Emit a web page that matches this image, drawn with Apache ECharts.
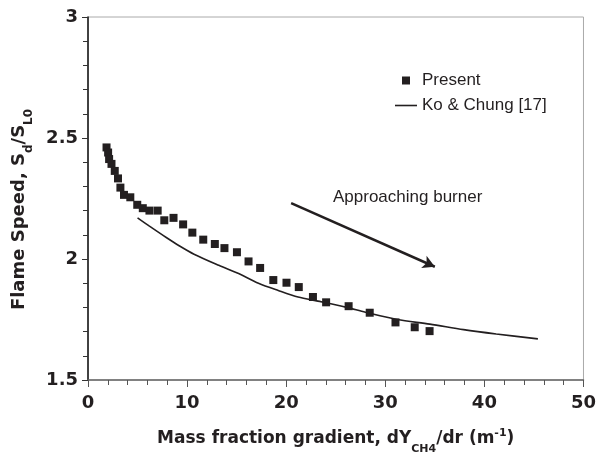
<!DOCTYPE html>
<html>
<head>
<meta charset="utf-8">
<script src="https://cdn.jsdelivr.net/npm/echarts@6/dist/echarts.min.js"></script>
<style>
html,body{margin:0;padding:0;background:#fff;}
#chart{width:599px;height:460px;}
</style>
</head>
<body>
<div id="chart"></div>
<script>
var presentX = [1.87,2.03,2.13,2.37,2.7,3.03,3.27,3.63,4.27,4.97,5.53,6.2,7.03,7.7,8.63,9.6,10.53,11.63,12.8,13.77,15.03,16.2,17.37,18.7,20.03,21.27,22.7,24.03,26.3,28.43,31.03,32.97,34.47];
var presentY = [2.461,2.44,2.413,2.393,2.364,2.333,2.295,2.265,2.255,2.224,2.21,2.2,2.2,2.16,2.17,2.143,2.109,2.08,2.062,2.045,2.028,1.99,1.963,1.913,1.902,1.884,1.843,1.821,1.805,1.778,1.738,1.718,1.702];
var koX = [5.0,6.2,7.9,9.2,10.7,13.2,15.2,17.2,19.2,21.2,23.2,24.5,26.2,28.0,31.2,34.5,37.9,41.2,45.4];
var koY = [2.17,2.136,2.089,2.055,2.02,1.974,1.94,1.9,1.87,1.843,1.826,1.815,1.799,1.78,1.75,1.731,1.708,1.69,1.67];
var arrowStart = [20.5, 2.231];
var arrowEnd = [35.0, 1.968];
var seriesNames = ['Present', 'Ko & Chung [17]'];
var annotation = 'Approaching burner';

function zip(a, b) { return a.map(function (v, i) { return [v, b[i]]; }); }

var ink = '#231f20';
var font = 'Liberation Sans, Arial, sans-serif';
var bold = 'DejaVu Sans, Liberation Sans, sans-serif';
var chart = echarts.init(document.getElementById('chart'), null, {renderer: 'canvas'});
chart.setOption({
  animation: false,
  backgroundColor: '#ffffff',
  grid: {left: 88, right: 11, top: 17, bottom: 73, show: true, borderColor: '#aaaaaa', borderWidth: 1},
  legend: {
    orient: 'vertical', left: 390, top: 67, itemWidth: 22, itemHeight: 8, itemGap: 8,
    textStyle: {fontFamily: font, fontSize: 17, color: ink, lineHeight: 17},
    data: [
      {name: seriesNames[0], icon: 'path://M0,0L10,0L10,10L0,10Z'},
      {name: seriesNames[1], icon: 'path://M0,0L22,0L22,1.6L0,1.6Z'}
    ]
  },
  xAxis: {
    type: 'value', min: 0, max: 50, interval: 10,
    axisLine: {lineStyle: {color: '#666', width: 1.5}},
    axisTick: {length: 7, lineStyle: {color: '#555'}},
    minorTick: {show: true, splitNumber: 5, length: 5, lineStyle: {color: '#555'}},
    splitLine: {show: false},
    axisLabel: {fontFamily: bold, fontWeight: 'bold', fontSize: 18, color: ink, margin: 14},
    name: '{a|Mass fraction gradient, dY}{sub|CH4}{a|/dr (m}{sup|-1}{a|)}',
    nameLocation: 'middle', nameGap: 48,
    nameTextStyle: {
      rich: {
        a: {fontFamily: bold, fontWeight: 'bold', fontSize: 17, color: ink, lineHeight: 22, verticalAlign: 'middle'},
        sub: {fontFamily: bold, fontWeight: 'bold', fontSize: 11, color: ink, lineHeight: 12, verticalAlign: 'bottom', padding: [0,0,-5,0]},
        sup: {fontFamily: bold, fontWeight: 'bold', fontSize: 11, color: ink, lineHeight: 12, verticalAlign: 'top'}
      }
    }
  },
  yAxis: {
    type: 'value', min: 1.5, max: 3, interval: 0.5,
    axisLine: {lineStyle: {color: '#111', width: 1.5}},
    axisTick: {length: 6, lineStyle: {color: '#333'}},
    minorTick: {show: true, splitNumber: 5, length: 5, lineStyle: {color: '#333'}},
    splitLine: {show: false},
    axisLabel: {fontFamily: bold, fontWeight: 'bold', fontSize: 18, color: ink, margin: 10},
    name: '{a|Flame Speed, S}{sub|d}{a|/S}{sub|L0}',
    nameLocation: 'middle', nameGap: 57,
    nameTextStyle: {
      padding: [0, 22, 0, 0],
      rich: {
        a: {fontFamily: bold, fontWeight: 'bold', fontSize: 18, color: ink, lineHeight: 22, verticalAlign: 'middle'},
        sub: {fontFamily: bold, fontWeight: 'bold', fontSize: 12, color: ink, lineHeight: 12, verticalAlign: 'bottom', padding: [0,0,-5,0]}
      }
    }
  },
  graphic: [{
    type: 'text', left: 333, top: 189,
    style: {text: annotation, font: '17px Liberation Sans, Arial, sans-serif', fill: ink}
  }],
  series: [
    {
      name: seriesNames[0], type: 'scatter', data: zip(presentX, presentY),
      symbol: 'rect', symbolSize: 8, itemStyle: {color: ink, opacity: 1}, z: 3
    },
    {
      name: seriesNames[1], type: 'line', data: zip(koX, koY),
      symbol: 'none', smooth: 0.3, lineStyle: {color: ink, width: 1.6}, itemStyle: {color: ink},
      markLine: {
        silent: true, animation: false, symbol: ['none', 'arrow'], symbolSize: [10, 12],
        label: {show: false},
        lineStyle: {color: ink, width: 2.5, type: 'solid'},
        data: [[{coord: arrowStart}, {coord: arrowEnd}]]
      }
    }
  ]
});
</script>
</body>
</html>
